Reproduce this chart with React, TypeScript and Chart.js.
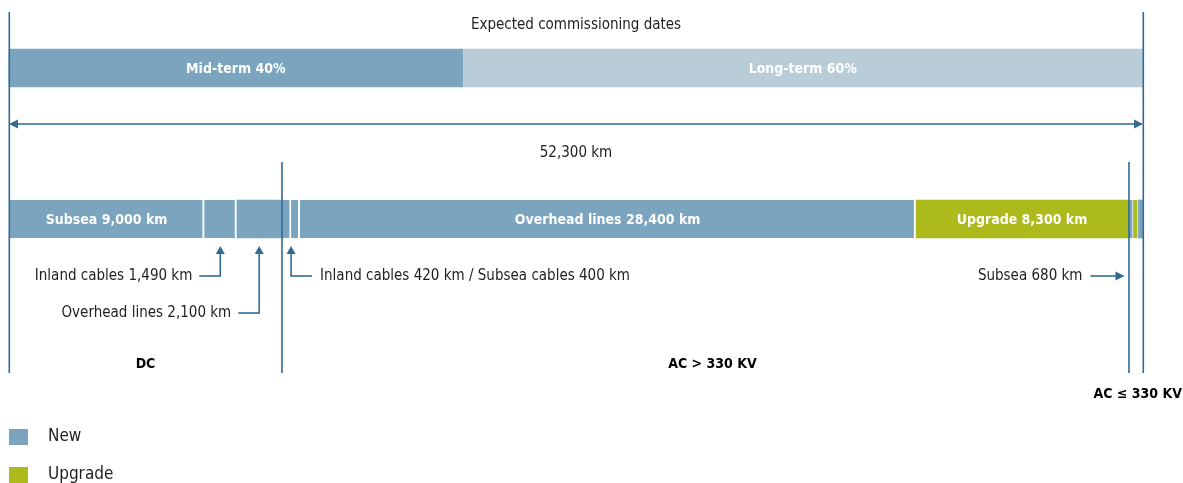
import React, { useEffect, useRef } from "react";
import { Chart, registerables } from "chart.js";

Chart.register(...registerables);

// ---------------- data ----------------
const TOTAL_KM = 52300;
const totalLabel = "52,300 km";
const rowLabels = ["Expected commissioning dates", "Transmission projects"];
const termLabels = ["Mid-term 40%", "Long-term 60%"];
const termKm = [20920, 31380];
// segments of the main bar, in km as drawn
const segmentLabels = ["Subsea 9,000 km", "", "", "", "", "Overhead lines 28,400 km", "Upgrade 8,300 km", "", "", ""];
const segmentKm = [9000, 1490, 2100, 420, 400, 28400, 9820, 210, 230, 240];
const segmentType = ["New", "New", "New", "New", "New", "New", "Upgrade", "New", "Upgrade", "New"];
const segmentGroup = ["DC", "DC", "DC", "AC>330", "AC>330", "AC>330", "AC>330", "AC<=330", "AC<=330", "AC<=330"];
const groupLabels = ["DC", "AC > 330 KV", "AC \u2264 330 KV"];
const calloutLabels = [
  "Inland cables 1,490 km",
  "Overhead lines 2,100 km",
  "Inland cables 420 km / Subsea cables 400 km",
  "Subsea 680 km",
];
const legendLabels = ["New", "Upgrade"];

// ---------------- styles ----------------
const C_NEW = "#7BA5BF";
const C_LONG = "#B8CDD8";
const C_UPG = "#ADBA1B";
const C_LINE = "#336A94";
const C_TEXT = "#1E1E1E";
const FONT = '"DejaVu Sans Condensed", "Liberation Sans Narrow", "Liberation Sans", sans-serif';

const typeColor = (t: string) => (t === "Upgrade" ? C_UPG : C_NEW);

export default function App() {
  const ref = useRef<HTMLCanvasElement | null>(null);

  useEffect(() => {
    if (!ref.current) return;

    const datasets: any[] = [];
    termKm.forEach((v, i) => {
      datasets.push({
        label: termLabels[i],
        data: [v, null],
        backgroundColor: i === 0 ? C_NEW : C_LONG,
        borderWidth: 0,
        barThickness: 38,
        stack: "s",
        clip: false,
      });
    });
    segmentKm.forEach((v, i) => {
      const last = i === segmentKm.length - 1;
      const beforeGroupChange = !last && segmentGroup[i] !== segmentGroup[i + 1];
      const small = segmentGroup[i] === "AC<=330";
      const gap = last || beforeGroupChange ? 0 : small ? 1 : 2;
      datasets.push({
        label: segmentLabels[i] || segmentType[i],
        data: [null, v],
        backgroundColor: typeColor(segmentType[i]),
        borderColor: "#ffffff",
        borderWidth: { left: 0, right: gap, top: 0, bottom: 0 },
        borderSkipped: false,
        barThickness: 38,
        stack: "s",
        clip: false,
      });
    });

    const overlay = {
      id: "overlay",
      afterDatasetsDraw(chart: any) {
        const ctx = chart.ctx as CanvasRenderingContext2D;
        const xs = chart.scales.x;
        const ys = chart.scales.y;
        const yTop = ys.getPixelForValue(0);
        const yMain = ys.getPixelForValue(1);
        const half = 19;
        const px = (km: number) => xs.getPixelForValue(km);
        const cum: number[] = [0];
        segmentKm.forEach((v, i) => cum.push(cum[i] + v));
        const xLeft = px(0);
        const xRight = px(TOTAL_KM);
        const groupEnd = (g: string) => {
          let e = 0;
          segmentGroup.forEach((s, i) => {
            if (s === g) e = cum[i + 1];
          });
          return e;
        };
        const xDC = px(groupEnd("DC"));
        const xAC = px(groupEnd("AC>330"));
        const lineBottom = 373;

        ctx.save();
        ctx.strokeStyle = C_LINE;
        ctx.fillStyle = C_LINE;
        ctx.lineWidth = 1.6;

        const vline = (x: number, y0: number, y1: number) => {
          ctx.beginPath();
          ctx.moveTo(x, y0);
          ctx.lineTo(x, y1);
          ctx.stroke();
        };
        const hline = (x0: number, x1: number, y: number) => {
          ctx.beginPath();
          ctx.moveTo(x0, y);
          ctx.lineTo(x1, y);
          ctx.stroke();
        };
        const headUp = (x: number, y: number) => {
          ctx.beginPath();
          ctx.moveTo(x, y);
          ctx.lineTo(x - 4.5, y + 8);
          ctx.lineTo(x + 4.5, y + 8);
          ctx.closePath();
          ctx.fill();
        };
        const headH = (x: number, y: number, dir: number) => {
          ctx.beginPath();
          ctx.moveTo(x, y);
          ctx.lineTo(x - dir * 9, y - 4.5);
          ctx.lineTo(x - dir * 9, y + 4.5);
          ctx.closePath();
          ctx.fill();
        };

        // boundary lines
        vline(xLeft + 0.3, 12, lineBottom);
        vline(xRight + 0.3, 12, lineBottom);
        vline(xDC, yMain - 57, lineBottom);
        vline(xAC + 0.5, yMain - 57, lineBottom);

        // total arrow
        const yArrow = 124;
        hline(xLeft + 6, xRight - 6, yArrow);
        headH(xLeft, yArrow, -1);
        headH(xRight, yArrow, 1);

        // callouts
        const tip = yMain + half + 8;
        const y1 = 276;
        const y2 = 313;
        const xa = (px(cum[1]) + px(cum[2])) / 2;
        const xb = (px(cum[2]) + px(cum[3])) / 2;
        const xc = px(cum[4]);
        headUp(xa, tip);
        vline(xa, tip + 7, y1);
        hline(xa - 21, xa + 0.7, y1);
        headUp(xb, tip);
        vline(xb, tip + 7, y2);
        hline(xb - 21, xb + 0.7, y2);
        headUp(xc, tip);
        vline(xc, tip + 7, y1);
        hline(xc - 0.7, xc + 21, y1);
        const xd = xAC - 4;
        hline(xd - 34, xd - 6, y1);
        headH(xd, y1, 1);

        // texts
        ctx.textBaseline = "middle";
        ctx.fillStyle = C_TEXT;
        ctx.font = `15px ${FONT}`;
        ctx.textAlign = "center";
        ctx.fillText(rowLabels[0], (xLeft + xRight) / 2, 25);
        ctx.fillText(totalLabel, (xLeft + xRight) / 2, 153);
        ctx.textAlign = "right";
        ctx.fillText(calloutLabels[0], xa - 28, y1);
        ctx.fillText(calloutLabels[1], xb - 28, y2);
        ctx.fillText(calloutLabels[3], xd - 42, y1);
        ctx.textAlign = "left";
        ctx.fillText(calloutLabels[2], xc + 29, y1);

        // bar labels
        ctx.fillStyle = "#ffffff";
        ctx.font = `bold 14px ${FONT}`;
        ctx.textAlign = "center";
        chart.data.datasets.forEach((ds: any, di: number) => {
          const meta = chart.getDatasetMeta(di);
          let label = "";
          let row = 0;
          if (di < termLabels.length) {
            label = termLabels[di];
            row = 0;
          } else {
            label = segmentLabels[di - termLabels.length];
            row = 1;
          }
          if (!label) return;
          const el = meta.data[row];
          if (!el) return;
          const cx = (el.x + el.base) / 2;
          ctx.fillText(label, cx, (row === 0 ? yTop : yMain) + 1);
        });

        // group labels
        ctx.fillStyle = "#000000";
        ctx.font = `bold 14px ${FONT}`;
        ctx.textAlign = "center";
        ctx.fillText(groupLabels[0], (xLeft + xDC) / 2, 364);
        ctx.fillText(groupLabels[1], (xDC + xRight) / 2, 364);
        ctx.textAlign = "right";
        ctx.fillText(groupLabels[2], 1182, 394);

        // legend
        ctx.font = `17px ${FONT}`;
        ctx.textAlign = "left";
        const legendColors = [C_NEW, C_UPG];
        legendLabels.forEach((t, i) => {
          const y = 429 + i * 38;
          ctx.fillStyle = legendColors[i];
          ctx.fillRect(9, y, 19, 16);
          ctx.fillStyle = C_TEXT;
          ctx.fillText(t, 48, y + 8);
        });

        ctx.restore();
      },
    };

    const chart = new Chart(ref.current, {
      type: "bar",
      data: { labels: rowLabels, datasets },
      options: {
        indexAxis: "y",
        animation: false,
        responsive: false,
        devicePixelRatio: 1,
        layout: { padding: { left: 9, right: 40, top: 68, bottom: 264 } },
        scales: {
          x: { stacked: true, min: 0, max: TOTAL_KM, display: false },
          y: { stacked: true, display: false, offset: false },
        },
        plugins: {
          legend: { display: false },
          tooltip: { enabled: false },
        },
      } as any,
      plugins: [overlay],
    });
    return () => chart.destroy();
  }, []);

  return (
    <div style={{ position: "absolute", left: 0, top: 0, width: 1183, height: 483, background: "#fff" }}>
      <canvas ref={ref} width={1183} height={483} style={{ display: "block", width: 1183, height: 483 }} />
    </div>
  );
}
